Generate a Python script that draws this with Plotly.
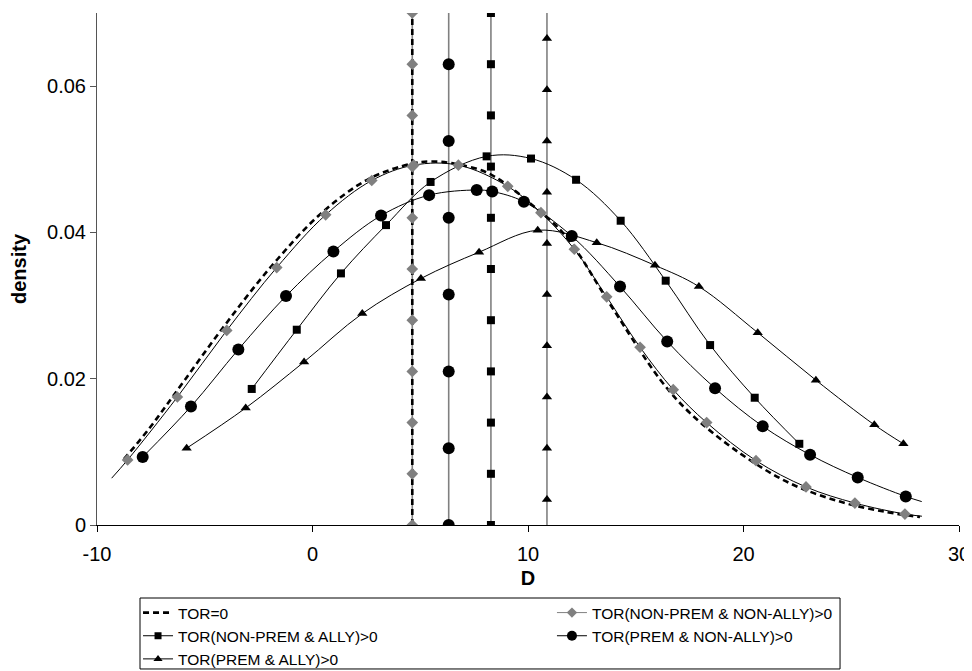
import plotly.graph_objects as go

# ---- data ----
tor0_x = [-8.75, -7.6, -6.45, -4.2, -1.9, 0.4, 2.6, 4.6, 5.5, 6.6, 8.08, 9.3, 10.25, 11.48,
          12.41, 13.19, 13.96, 16.13, 17.52, 19.84, 22.16, 24.48, 26.57, 28.19]
tor0_y = [0.0090, 0.0131, 0.0177, 0.0268, 0.0354, 0.0426, 0.0473, 0.0494, 0.0497, 0.0494,
          0.0482, 0.0459, 0.0436, 0.0404, 0.0368, 0.0331, 0.0295, 0.0199, 0.0153, 0.0098,
          0.0057, 0.0032, 0.0018, 0.0011]

npna_x = [-8.58, -6.27, -3.98, -1.66, 0.61, 2.75, 4.70, 6.77, 9.06, 10.60, 12.15, 13.65,
          15.20, 16.74, 18.29, 20.58, 22.90, 25.17, 27.49]
npna_y = [0.0089, 0.0175, 0.0266, 0.0352, 0.0424, 0.0471, 0.0492, 0.0492, 0.0463, 0.0427,
          0.0377, 0.0312, 0.0243, 0.0185, 0.0140, 0.0088, 0.0052, 0.0030, 0.0015]
npna_line_x = [-9.32] + npna_x + [28.28]
npna_line_y = [0.0064] + npna_y + [0.0012]

npa_x = [-2.82, -0.73, 1.32, 3.41, 5.48, 8.08, 10.14, 12.23, 14.30, 16.39, 18.45, 20.52, 22.59]
npa_y = [0.0186, 0.0267, 0.0344, 0.0410, 0.0469, 0.0504, 0.0501, 0.0472, 0.0416, 0.0334,
         0.0246, 0.0174, 0.0111]

pna_x = [-7.88, -5.64, -3.44, -1.23, 0.97, 3.18, 5.41, 7.62, 8.34, 9.81, 12.03, 14.27, 16.46,
         18.68, 20.89, 23.09, 25.30, 27.53]
pna_y = [0.0093, 0.0162, 0.0240, 0.0313, 0.0374, 0.0423, 0.0451, 0.0458, 0.0456, 0.0442,
         0.0395, 0.0326, 0.0251, 0.0187, 0.0135, 0.0096, 0.0065, 0.0039]
pna_line_x = pna_x + [28.27]
pna_line_y = pna_y + [0.0032]

pa_x = [-5.84, -3.10, -0.39, 2.31, 5.03, 7.73, 10.45, 13.19, 15.89, 17.93, 20.66, 23.36,
        26.07, 27.42]
pa_y = [0.0105, 0.0160, 0.0223, 0.0289, 0.0337, 0.0373, 0.0403, 0.0386, 0.0355, 0.0326,
        0.0263, 0.0198, 0.0137, 0.0111]

# vertical reference lines (means) and their marker heights
tor0_mean = 4.63
npna_mean = 4.63
pna_mean = 6.32
npa_mean = 8.28
pa_mean = 10.88
vline_span = [0.0, 0.07]
npna_v_y = [0.0, 0.007, 0.014, 0.021, 0.028, 0.035, 0.042, 0.049, 0.056, 0.063, 0.07]
npa_v_y = [0.0, 0.007, 0.014, 0.021, 0.028, 0.035, 0.042, 0.049, 0.056, 0.063, 0.07]
pna_v_y = [0.0, 0.0105, 0.021, 0.0315, 0.042, 0.0525, 0.063]
pa_v_y = [0.0035, 0.0105, 0.0175, 0.0245, 0.0315, 0.0385, 0.0455, 0.0525, 0.0595, 0.0665]

x_ticks = [-10, 0, 10, 20, 30]
x_ticktext = ["-10", "0", "10", "20", "30"]
y_ticks = [0, 0.02, 0.04, 0.06]
y_ticktext = ["0", "0.02", "0.04", "0.06"]

names = ["TOR=0", "TOR(NON-PREM & NON-ALLY)>0", "TOR(NON-PREM & ALLY)>0",
         "TOR(PREM & NON-ALLY)>0", "TOR(PREM & ALLY)>0"]

FONT = "Arial, Liberation Sans, sans-serif"
GREY = "#808080"
BLACK = "#000000"

fig = go.Figure()

# vertical lines
for m in [npna_mean, pna_mean, npa_mean, pa_mean]:
    fig.add_trace(go.Scatter(x=[m, m], y=vline_span, mode="lines",
                             line=dict(color=GREY, width=1.6), showlegend=False, hoverinfo="skip"))
fig.add_trace(go.Scatter(x=[tor0_mean, tor0_mean], y=vline_span, mode="lines",
                         line=dict(color=BLACK, width=2.6, dash="6px,4px"), showlegend=False))

# curves
fig.add_trace(go.Scatter(x=tor0_x, y=tor0_y, mode="lines", line_shape="spline",
                         line=dict(color=BLACK, width=2.6, dash="6px,4px"), showlegend=False))
fig.add_trace(go.Scatter(x=npna_line_x, y=npna_line_y, mode="lines", line_shape="spline",
                         line=dict(color=BLACK, width=1), showlegend=False))
fig.add_trace(go.Scatter(x=npa_x, y=npa_y, mode="lines", line_shape="spline",
                         line=dict(color=BLACK, width=1), showlegend=False))
fig.add_trace(go.Scatter(x=pna_line_x, y=pna_line_y, mode="lines", line_shape="spline",
                         line=dict(color=BLACK, width=1), showlegend=False))
fig.add_trace(go.Scatter(x=pa_x, y=pa_y, mode="lines", line_shape="spline",
                         line=dict(color=BLACK, width=1), showlegend=False))

# markers
dia = dict(symbol="diamond", size=9, color=GREY)
sq = dict(symbol="square", size=8, color=BLACK)
cir = dict(symbol="circle", size=12, color=BLACK)
tri = dict(symbol="triangle-up", size=9, color=BLACK)

fig.add_trace(go.Scatter(x=[npna_mean] * len(npna_v_y), y=npna_v_y, mode="markers", marker=dia, showlegend=False))
fig.add_trace(go.Scatter(x=[pna_mean] * len(pna_v_y), y=pna_v_y, mode="markers", marker=cir, showlegend=False))
fig.add_trace(go.Scatter(x=[npa_mean] * len(npa_v_y), y=npa_v_y, mode="markers", marker=sq, showlegend=False))
fig.add_trace(go.Scatter(x=[pa_mean] * len(pa_v_y), y=pa_v_y, mode="markers", marker=tri, showlegend=False))
fig.add_trace(go.Scatter(x=npna_x, y=npna_y, mode="markers", marker=dia, showlegend=False))
fig.add_trace(go.Scatter(x=npa_x, y=npa_y, mode="markers", marker=sq, showlegend=False))
fig.add_trace(go.Scatter(x=pna_x, y=pna_y, mode="markers", marker=cir, showlegend=False))
fig.add_trace(go.Scatter(x=pa_x, y=pa_y, mode="markers", marker=tri, showlegend=False))

# legend entries: left column -> legend, right column -> legend2
fig.add_trace(go.Scatter(x=[None], y=[None], mode="lines", name=names[0], legend="legend",
                         line=dict(color=BLACK, width=2.6, dash="6px,4px")))
fig.add_trace(go.Scatter(x=[None], y=[None], mode="lines+markers", name=names[2], legend="legend",
                         line=dict(color=BLACK, width=1), marker=dict(symbol="square", size=7, color=BLACK)))
fig.add_trace(go.Scatter(x=[None], y=[None], mode="lines+markers", name=names[4], legend="legend",
                         line=dict(color=BLACK, width=1), marker=dict(symbol="triangle-up", size=8, color=BLACK)))
fig.add_trace(go.Scatter(x=[None], y=[None], mode="lines+markers", name=names[1], legend="legend2",
                         line=dict(color=GREY, width=1), marker=dict(symbol="diamond", size=8, color=GREY)))
fig.add_trace(go.Scatter(x=[None], y=[None], mode="lines+markers", name=names[3], legend="legend2",
                         line=dict(color=BLACK, width=1), marker=dict(symbol="circle", size=10, color=BLACK)))

leg_common = dict(orientation="v", yanchor="top", xanchor="left", borderwidth=0,
                  bgcolor="rgba(0,0,0,0)", traceorder="normal",
                  font=dict(family=FONT, size=15.5, color="black"))

# The page body adds an 8px offset, so the figure is 8px smaller than the window.
fig.update_layout(
    width=964, height=663,
    margin=dict(l=89, r=13, t=5, b=146, autoexpand=False),
    paper_bgcolor="white", plot_bgcolor="white",
    font=dict(family=FONT, size=20, color="black"),
    showlegend=True,
    legend=dict(x=0.0476, y=-0.1387, **leg_common),
    legend2=dict(x=0.5278, y=-0.1387, **leg_common),
    shapes=[dict(type="rect", xref="paper", yref="paper", x0=0.0499, x1=0.862,
                 y0=-0.2812, y1=-0.1426, line=dict(color="black", width=1),
                 fillcolor="rgba(0,0,0,0)", layer="below")],
)
fig.update_xaxes(range=[-10, 30], tickvals=x_ticks, ticktext=x_ticktext, showgrid=False, zeroline=False,
                 showline=True, linecolor="black", linewidth=1, ticks="outside", ticklen=6,
                 tickcolor="black", ticklabelstandoff=5,
                 tickfont=dict(family=FONT, size=20),
                 title=dict(text="<b>D</b>", font=dict(family=FONT, size=20), standoff=6))
fig.update_yaxes(range=[0, 0.07], tickvals=y_ticks, ticktext=y_ticktext,
                 showgrid=False, zeroline=False, showline=True, linecolor="#555555", linewidth=1,
                 ticks="outside", ticklen=6, tickcolor="#555555",
                 tickfont=dict(family=FONT, size=20),
                 title=dict(text="<b>density</b>", font=dict(family=FONT, size=20), standoff=17))

fig.write_html("out.html")
